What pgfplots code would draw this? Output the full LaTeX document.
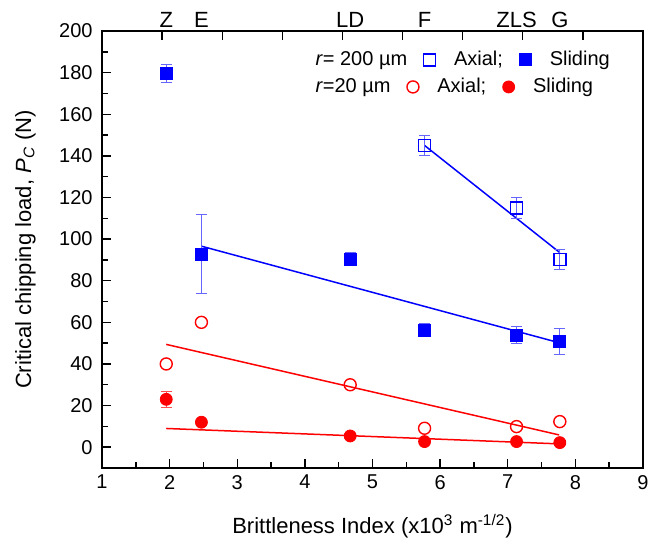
\documentclass[border=0pt]{standalone}
\usepackage{pgfplots}
\pgfplotsset{compat=1.18}
\usepackage{fontspec}
\setmainfont{Liberation Sans}
\tikzset{mtop/.style={anchor=base, font=\fontsize{11}{12}\selectfont, inner sep=0pt}}
\pgfplotsset{
  errb/.style={error bars/.cd, y dir=both, y explicit,
    error bar style={#1, line width=0.5pt},
    error mark=-,
    error mark options={rotate=90, #1, mark size=2.7pt, line width=0.5pt}},
  rowlegend/.style={legend columns=3,
    legend style={draw=none, fill=none, inner sep=0pt, at={(0.360,#1)}, anchor=west,
      font=\fontsize{10}{11}\selectfont,
      /tikz/every even column/.append style={column sep=6.2pt},
      /tikz/every odd column/.append style={column sep=7.2pt}}},
}
\begin{document}
\begin{tikzpicture}
\begin{axis}[
  name=main,
  scale only axis, width=270.5pt, height=218.5pt,
  xmin=1, xmax=9, ymin=-10, ymax=200,
  xtick={1,...,9}, minor x tick num=1,
  ytick={0,20,...,200}, minor y tick num=1,
  xtick pos=bottom, ytick pos=left,
  tick align=inside,
  major tick length=4.5pt, minor tick length=2.8pt,
  axis line style={line width=0.9pt, black},
  every tick/.style={black, line width=0.7pt},
  tick label style={font=\fontsize{10}{11}\selectfont},
  yticklabel style={inner xsep=4.5pt},
  /pgf/number format/assume math mode=true,
  every axis x label/.style={at={([yshift=-32.5pt]rel axis cs:0.5,0)}, anchor=base,
    font=\fontsize{11}{12}\selectfont},
  every axis y label/.style={at={([xshift=-35.5pt]rel axis cs:0,0.5)}, anchor=base,
    rotate=90, font=\fontsize{11}{12}\selectfont},
  xlabel={Brittleness Index (x10\textsuperscript{3} m\textsuperscript{-1/2})},
  ylabel={Critical chipping load, \textit{P}\textsubscript{\textit{C}} (N)},
  rowlegend=0.934,
  clip=false,
]
% legend, first row
\addlegendimage{empty legend}
\addlegendentry{\textit{r}= 200 µm}
\addlegendimage{only marks, mark=square, mark size=3pt, mark options={draw=blue, fill=white, line width=0.8pt}}
\addlegendentry{Axial;}
\addlegendimage{only marks, mark=square*, blue, mark size=3pt}
\addlegendentry{Sliding}

% fit lines
\addplot[blue, line width=0.75pt, forget plot] coordinates {(5.77,145) (7.77,93.5)};
\addplot[blue, line width=0.75pt, forget plot] coordinates {(2.47,96.6) (7.76,50.2)};
\addplot[red, line width=0.75pt, forget plot] coordinates {(1.95,49.4) (7.76,5.9)};
\addplot[red, line width=0.75pt, forget plot] coordinates {(1.95,9.0) (7.76,1.6)};

% r = 200 um, axial
\addplot[only marks, mark=square, blue, mark size=3pt,
  mark options={draw=blue, fill=white, line width=0.8pt},
  forget plot, errb={blue!60}]
  coordinates {(5.77,145) +- (0,5) (7.13,115) +- (0,5) (7.77,90.2) +- (0,5)};
% r = 200 um, sliding
\addplot[only marks, mark=square*, blue, mark size=3pt, forget plot, errb={blue!60}]
  coordinates {(1.95,179.5) +- (0,4.2) (2.47,92.7) +- (0,19) (4.67,90.4) +- (0,3.2)
               (5.77,56.3) +- (0,3.2) (7.13,53.9) +- (0,4.2) (7.77,50.7) +- (0,6.3)};
% r = 20 um, axial
\addplot[only marks, mark=o, red, mark size=3pt,
  mark options={draw=red, fill=white, line width=0.7pt}, forget plot]
  coordinates {(1.95,40) (2.47,60) (4.67,30) (5.77,9.1) (7.13,9.9) (7.77,12.3)};
% r = 20 um, sliding
\addplot[only marks, mark=*, red, mark size=3pt, forget plot, errb={red!70}]
  coordinates {(1.95,23) +- (0,4) (2.47,12) +- (0,1) (4.67,5.4) +- (0,1)
               (5.77,2.7) +- (0,1) (7.13,2.7) +- (0,1) (7.77,2.2) +- (0,1)};

% material labels along the top
\node[mtop] at ([yshift=2pt]axis cs:1.95,200) {Z};
\node[mtop] at ([yshift=2pt]axis cs:2.47,200) {E};
\node[mtop] at ([yshift=2pt]axis cs:4.67,200) {LD};
\node[mtop] at ([yshift=2pt]axis cs:5.77,200) {F};
\node[mtop] at ([yshift=2pt]axis cs:7.13,200) {ZLS};
\node[mtop] at ([yshift=2pt]axis cs:7.77,200) {G};
\end{axis}
% top tick marks and second legend row
\begin{axis}[
  scale only axis, width=270.5pt, height=218.5pt,
  xmin=0, xmax=9, ymin=0, ymax=1,
  axis x line*=top, axis y line=none,
  xtick={1,...,8}, xticklabels={},
  tick align=inside, major tick length=4.5pt,
  axis line style={line width=0.9pt, black},
  every tick/.style={black, line width=0.7pt},
  rowlegend=0.872,
]
\addlegendimage{empty legend}
\addlegendentry{\textit{r}=20 µm}
\addlegendimage{only marks, mark=o, mark size=3pt, mark options={draw=red, fill=white, line width=0.7pt}}
\addlegendentry{Axial;}
\addlegendimage{only marks, mark=*, red, mark size=3pt}
\addlegendentry{Sliding}
\end{axis}
\pgfresetboundingbox
\path ([shift={(-51pt,-36.5pt)}]main.south west) rectangle ([shift={(6.5pt,15.5pt)}]main.north east);
\end{tikzpicture}
\end{document}
